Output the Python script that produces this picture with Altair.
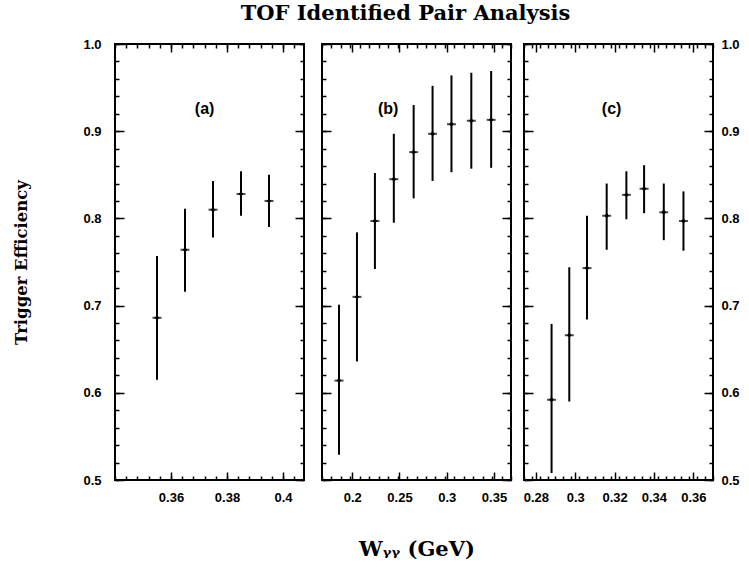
import altair as alt
import pandas as pd

# ---- data ----
a_x = [0.355, 0.365, 0.375, 0.385, 0.395]
a_y = [0.686, 0.764, 0.810, 0.828, 0.820]
a_lo = [0.615, 0.716, 0.778, 0.803, 0.790]
a_hi = [0.757, 0.811, 0.843, 0.854, 0.850]

b_x = [0.186, 0.205, 0.224, 0.244, 0.265, 0.285, 0.305, 0.326, 0.347]
b_y = [0.614, 0.710, 0.797, 0.845, 0.876, 0.897, 0.908, 0.912, 0.913]
b_lo = [0.529, 0.636, 0.742, 0.795, 0.823, 0.843, 0.853, 0.857, 0.858]
b_hi = [0.701, 0.784, 0.852, 0.897, 0.930, 0.952, 0.964, 0.967, 0.969]

c_x = [0.288, 0.297, 0.306, 0.316, 0.326, 0.335, 0.345, 0.355]
c_y = [0.592, 0.666, 0.743, 0.803, 0.827, 0.834, 0.807, 0.797]
c_lo = [0.508, 0.590, 0.684, 0.764, 0.799, 0.806, 0.775, 0.763]
c_hi = [0.679, 0.744, 0.803, 0.840, 0.854, 0.861, 0.840, 0.831]

panel_names = ["(a)", "(b)", "(c)"]
panel_label_x = [0.372, 0.238, 0.3185]
panel_label_y = 0.925

x_domains = [[0.34, 0.4075], [0.168, 0.368], [0.274, 0.37]]
x_major = [[0.36, 0.38, 0.40], [0.20, 0.25, 0.30, 0.35], [0.28, 0.30, 0.32, 0.34, 0.36]]
x_minor_step = [0.004, 0.01, 0.004]
y_major = [0.5, 0.6, 0.7, 0.8, 0.9, 1.0]


def steps(lo, hi, step):
    out = []
    k = 0
    while True:
        v = round(lo + k * step, 6)
        if v > hi + 1e-9:
            break
        out.append(v)
        k += 1
    return out


y_minor = steps(0.5, 1.0, 0.02)

LABEL_FONT = "Liberation Sans"
SERIF = "DejaVu Serif"
MAJ = 8
MIN = 4


def tick_axis(orient, values, size, labels=False, fmt=None, pad=4, title=None,
              title_pad=None, title_size=15, title_weight="bold"):
    kw = dict(orient=orient, values=values, tickSize=size, offset=-size,
              domain=False, grid=False, ticks=True, tickColor="black",
              tickWidth=1.5, labels=labels, title=title)
    if labels:
        kw.update(labelFont=LABEL_FONT, labelFontSize=13, labelFontWeight="bold",
                  labelColor="black", labelPadding=pad, labelFlush=False,
                  labelOverlap=False, labelBound=False)
        if fmt:
            kw["format"] = fmt
    if title:
        kw.update(titleFont=SERIF, titleFontWeight=title_weight, titleColor="black",
                  titleFontSize=title_size)
        if title_pad is not None:
            kw["titlePadding"] = title_pad
    return alt.Axis(**kw)


def panel(i, xs, ys, lo, hi):
    df = pd.DataFrame({"x": xs, "y": ys, "lo": lo, "hi": hi})
    lab = pd.DataFrame({"x": [panel_label_x[i]], "y": [panel_label_y],
                        "t": [panel_names[i]]})
    xsc = alt.Scale(domain=x_domains[i], nice=False, zero=False)
    ysc = alt.Scale(domain=[0.5, 1.0], nice=False, zero=False)
    d = x_domains[i]
    xminor = steps(d[0], d[1], x_minor_step[i])

    xtitle = "Wᵧᵧ (GeV)" if i == 1 else None
    ytitle = "Trigger Efficiency" if i == 0 else None

    x_bot = tick_axis("bottom", x_major[i], MAJ, labels=True, fmt="~g", pad=11,
                      title=xtitle, title_pad=34, title_size=21,
                      title_weight="bold")
    y_left = tick_axis("left", y_major, MAJ + 1, labels=(i == 0), fmt=".1f", pad=14,
                       title=ytitle, title_pad=53, title_size=16.5)
    y_right = tick_axis("right", y_major, MAJ + 1, labels=(i == 2), fmt=".1f", pad=8)

    bars = alt.Chart(df).mark_rule(color="black", strokeWidth=2).encode(
        x=alt.X("x:Q", scale=xsc, axis=x_bot),
        y=alt.Y("lo:Q", scale=ysc, axis=y_left),
        y2="hi:Q",
    )
    ticks = alt.Chart(df).mark_tick(color="black", orient="horizontal", size=9,
                                    thickness=2).encode(
        x=alt.X("x:Q", scale=xsc, axis=tick_axis("bottom", xminor, MIN)),
        y=alt.Y("y:Q", scale=ysc, axis=tick_axis("left", y_minor, MIN)),
    )
    pts = alt.Chart(df).mark_point(shape="diamond", filled=True, color="black",
                                   size=24, opacity=1).encode(
        x=alt.X("x:Q", scale=xsc, axis=tick_axis("top", x_major[i], MAJ)),
        y=alt.Y("y:Q", scale=ysc, axis=y_right),
    )
    txt = alt.Chart(lab).mark_text(font=LABEL_FONT, fontSize=16, fontWeight="bold",
                                   color="black").encode(
        x=alt.X("x:Q", scale=xsc, axis=tick_axis("top", xminor, MIN)),
        y=alt.Y("y:Q", scale=ysc, axis=tick_axis("right", y_minor, MIN)),
        text="t:N",
    )
    return alt.layer(bars, ticks, pts, txt).resolve_axis(
        x="independent", y="independent"
    ).properties(width=189, height=436)


pa = panel(0, a_x, a_y, a_lo, a_hi)
pb = panel(1, b_x, b_y, b_lo, b_hi)
pc = panel(2, c_x, c_y, c_lo, c_hi)

chart = alt.hconcat(alt.hconcat(pa, pb, spacing=14), pc, spacing=9).properties(
    title=alt.TitleParams("TOF Identified Pair Analysis", font=SERIF, fontSize=21,
                          fontWeight="bold", color="black", anchor="middle",
                          offset=13, dx=29),
    padding={"left": 12, "top": 3, "right": 5, "bottom": 5},
).configure_view(stroke="black", strokeWidth=2)

chart.save("out.html", embed_options={"renderer": "svg", "actions": False})
